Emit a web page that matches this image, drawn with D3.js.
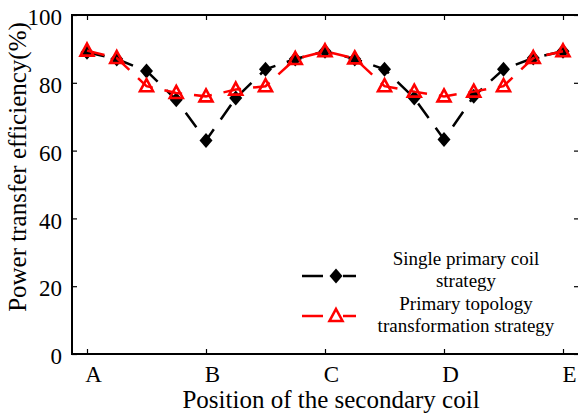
<!DOCTYPE html>
<html>
<head>
<meta charset="utf-8">
<script src="https://cdn.jsdelivr.net/npm/d3@7"></script>
<style>
  body { margin: 0; background: #fff; }
  svg { display: block; }
  text { font-family: "Liberation Serif", "Times New Roman", serif; fill: #000; }
</style>
</head>
<body>
<svg width="578" height="415"></svg>
<script>
// measurement positions between A..E (4 steps between letters)
const positions = [0, 1, 2, 3, 4, 5, 6, 7, 8, 9, 10, 11, 12, 13, 14, 15, 16];
const tickPositions = [0, 4, 8, 12, 16];
const tickLabels = ["A", "B", "C", "D", "E"];
const yTicks = [0, 20, 40, 60, 80, 100];

const singleCoil = [89, 87, 83.5, 75, 63, 75.5, 84, 87, 89.3, 87, 84, 75.5, 63.3, 76, 84, 87.3, 89.3];
const topologySwitch = [89.5, 87.3, 79, 77, 76, 78, 79, 87, 89.3, 87.2, 79, 77.4, 76, 77.4, 79, 87.3, 89.3];

const seriesNames = ["Single primary coil\nstrategy", "Primary topology\ntransformation strategy"];

const svg = d3.select("svg");
const plotLeft = 72, plotRight = 580, plotTop = 15, plotBottom = 354;

const x = d3.scaleLinear().domain([0, 16]).range([87, 563]);
const y = d3.scaleLinear().domain([0, 100]).range([plotBottom, plotTop]);

// frame
svg.append("rect")
    .attr("x", plotLeft).attr("y", plotTop)
    .attr("width", plotRight - plotLeft).attr("height", plotBottom - plotTop)
    .attr("fill", "none").attr("stroke", "#000").attr("stroke-width", 2);

// axes, ticks pointing inward
const xAxis = svg.append("g")
    .attr("transform", `translate(0,${plotBottom})`)
    .call(d3.axisBottom(x).tickValues(tickPositions)
      .tickFormat((d, i) => tickLabels[i]).tickSizeInner(-5).tickSizeOuter(0).tickPadding(12));
xAxis.select(".domain").remove();
xAxis.selectAll("line").attr("stroke-width", 1.2);
xAxis.selectAll("text").attr("font-size", 23).attr("dx", 6);

svg.append("g")
    .attr("transform", `translate(0,${plotTop})`)
    .call(d3.axisTop(x).tickValues(tickPositions).tickFormat("").tickSizeInner(-5).tickSizeOuter(0))
    .call(g => g.select(".domain").remove())
    .selectAll("line").attr("stroke-width", 1.2);

const yAxis = svg.append("g")
    .attr("transform", `translate(${plotLeft},0)`)
    .call(d3.axisLeft(y).tickValues(yTicks).tickSizeInner(-5).tickSizeOuter(0).tickPadding(10));
yAxis.select(".domain").remove();
yAxis.selectAll("line").attr("stroke-width", 1.2);
yAxis.selectAll("text").attr("font-size", 23).attr("dy", "0.42em");

svg.append("g")
    .attr("transform", `translate(${plotRight},0)`)
    .call(d3.axisRight(y).tickValues(yTicks).tickFormat("").tickSizeInner(-6).tickSizeOuter(0))
    .call(g => g.select(".domain").remove())
    .selectAll("line").attr("stroke-width", 1.2);

// axis titles
svg.append("text")
    .attr("x", 331).attr("y", 408)
    .attr("text-anchor", "middle").attr("font-size", 25)
    .text("Position of the secondary coil");

svg.append("text")
    .attr("transform", "translate(26,167) rotate(-90)")
    .attr("text-anchor", "middle").attr("font-size", 25)
    .text("Power transfer efficiency(%)");

const line = d3.line().x((d, i) => x(positions[i])).y(d => y(d));
const diamond = "M0,-7.5L6.5,0L0,7.5L-6.5,0Z";
const triangle = "M0,-7L6.5,5L-6.5,5Z";

// black series
svg.append("path").datum(singleCoil)
    .attr("d", line).attr("fill", "none")
    .attr("stroke", "#000").attr("stroke-width", 2.5).attr("stroke-dasharray", "18,12");
svg.append("g").selectAll("path").data(singleCoil).join("path")
    .attr("d", diamond)
    .attr("transform", (d, i) => `translate(${x(positions[i])},${y(d)})`)
    .attr("fill", "#000");

// red series
svg.append("path").datum(topologySwitch)
    .attr("d", line).attr("fill", "none")
    .attr("stroke", "#ff0000").attr("stroke-width", 2.5).attr("stroke-dasharray", "18,12");
svg.append("g").selectAll("path").data(topologySwitch).join("path")
    .attr("d", triangle)
    .attr("transform", (d, i) => `translate(${x(positions[i])},${y(d)})`)
    .attr("fill", "none").attr("stroke", "#ff0000").attr("stroke-width", 2.6)
    .attr("stroke-linejoin", "miter");

// legend
const legend = svg.append("g");
const legendRows = [
  { name: seriesNames[0], color: "#000", ly: 276, ty: 265, marker: diamond, fill: "#000" },
  { name: seriesNames[1], color: "#ff0000", ly: 316, ty: 310, marker: triangle, fill: "none" }
];
legendRows.forEach(r => {
  legend.append("line")
      .attr("x1", 302).attr("x2", 356).attr("y1", r.ly).attr("y2", r.ly)
      .attr("stroke", r.color).attr("stroke-width", 2.5).attr("stroke-dasharray", "21,20");
  legend.append("path")
      .attr("d", r.marker)
      .attr("transform", `translate(336,${r.ly})`)
      .attr("fill", r.fill).attr("stroke", r.fill === "none" ? r.color : "none").attr("stroke-width", 2.6);
  r.name.split("\n").forEach((t, k) => {
    legend.append("text")
        .attr("x", 466).attr("y", r.ty + k * 22)
        .attr("text-anchor", "middle").attr("font-size", 19)
        .text(t);
  });
});
</script>
</body>
</html>
